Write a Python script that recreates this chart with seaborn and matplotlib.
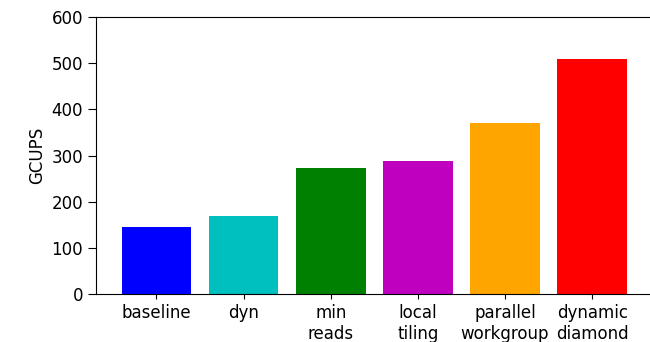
import matplotlib
matplotlib.use("Agg")
import matplotlib.pyplot as plt
import seaborn as sns
import pandas as pd

# GCUPS per kernel variant
variants = ["baseline", "dyn", "min\nreads", "local\ntiling", "parallel\nworkgroup", "dynamic\ndiamond"]
gcups = [146, 170, 273, 288, 371, 509]
bar_colors = ["b", "c", "g", "m", "orange", "r"]

df = pd.DataFrame({"variant": variants, "gcups": gcups})

fig = plt.figure(figsize=(6.5, 3.42), dpi=100)
ax = fig.add_axes([96.3 / 650, 47.7 / 342, 556 / 650, 277.3 / 342])

sns.barplot(data=df, x="variant", y="gcups", hue="variant",
            palette=bar_colors, order=variants, hue_order=variants,
            width=0.8, saturation=1, legend=False, ax=ax)

ax.set_xlim(-0.69, 5.69)
ax.set_ylim(0, 600)
ax.set_yticks([0, 100, 200, 300, 400, 500, 600])
ax.set_xlabel("")
ax.set_ylabel("GCUPS", fontsize=12)
ax.tick_params(labelsize=12)
ax.tick_params(axis="y", length=6)

fig.savefig("out.png", dpi=100)
